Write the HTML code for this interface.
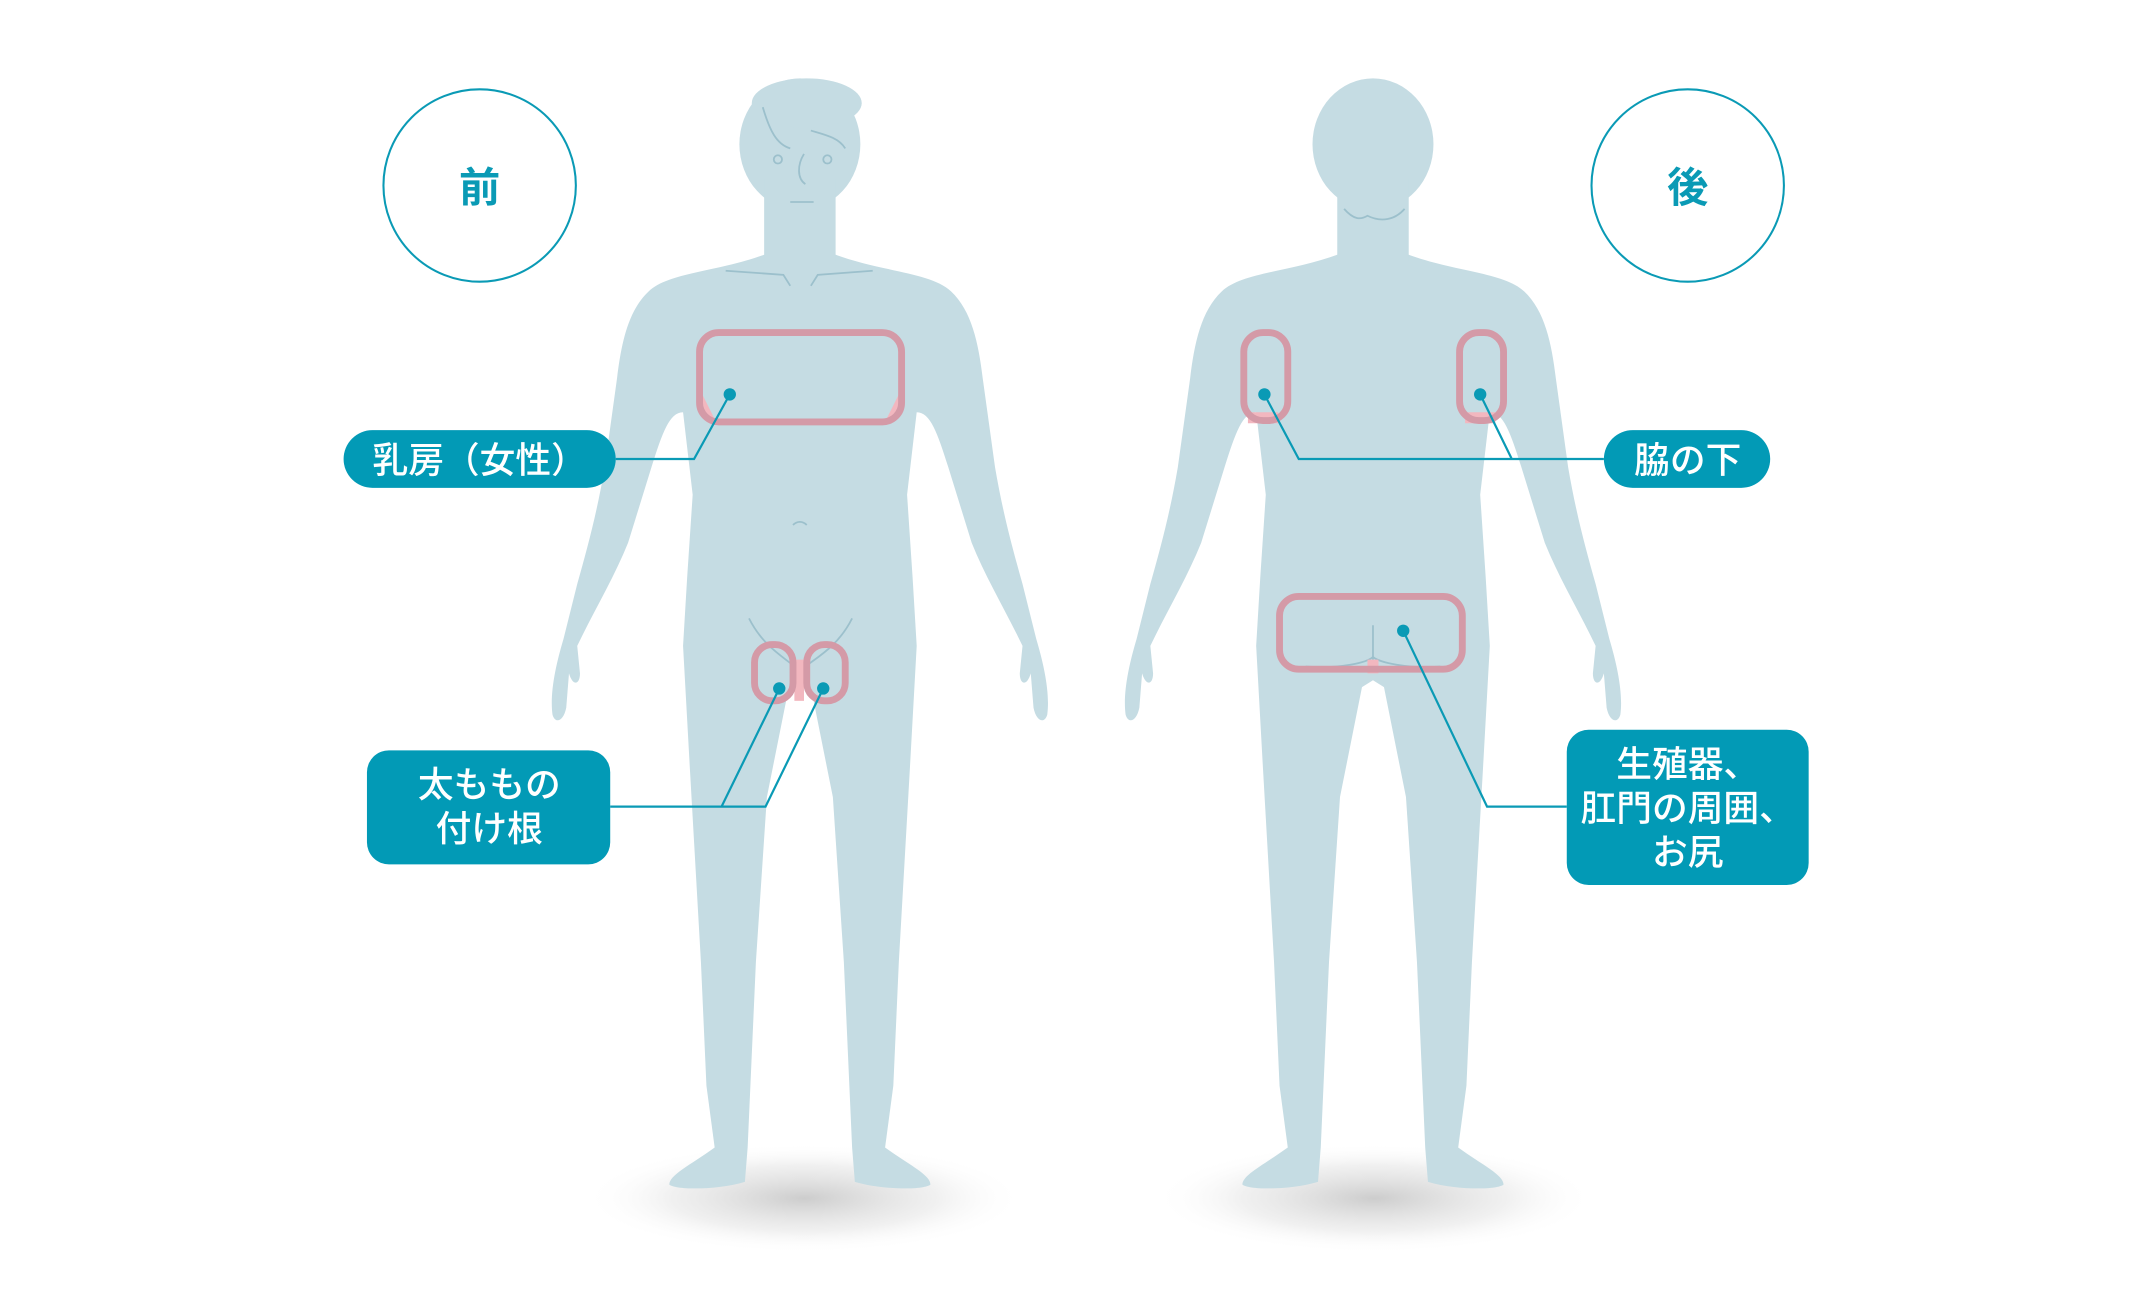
<!DOCTYPE html>
<html><head><meta charset="utf-8"><style>
html,body{margin:0;padding:0;background:#fff;}
svg{display:block;}
text{font-family:"Liberation Sans","Noto Sans CJK JP",sans-serif;}
</style></head><body>
<svg width="2144" height="1300" viewBox="0 0 1560 946" preserveAspectRatio="none" xmlns="http://www.w3.org/2000/svg">
<defs>
<radialGradient id="sh" cx="50%" cy="50%" r="50%">
<stop offset="0%" stop-color="#9a9a9a" stop-opacity="0.5"/>
<stop offset="60%" stop-color="#c4c4c4" stop-opacity="0.25"/>
<stop offset="100%" stop-color="#ffffff" stop-opacity="0"/>
</radialGradient>
<path id="body" d="M -25 140 L -25 185 C -60 198 -95 198 -110 212 C -125 226 -130 250 -133 275 L -142 340 C -148 375 -155 400 -162 425 L -172 465 C -178 485 -182 505 -180 520 C -178 527 -172 525 -170 515 L -168 490 C -165 500 -160 498 -160 490 L -162 470 C -150 445 -135 420 -125 395 L -108 340 C -100 315 -95 300 -85 300 L -78 360 L -82 420 L -85 470 L -80 560 L -72 700 L -68 790 L -62 835 C -80 848 -95 855 -95 862 C -90 866 -60 866 -40 860 L -38 835 L -32 700 L -24 580 L -8 500 L 0 495 L 8 500 L 24 580 L 32 700 L 38 835 L 40 860 C 60 866 90 866 95 862 C 95 855 80 848 62 835 L 68 790 L 72 700 L 80 560 L 85 470 L 82 420 L 78 360 L 85 300 C 95 300 100 315 108 340 L 125 395 C 135 420 150 445 162 470 L 160 490 C 160 498 165 500 168 490 L 170 515 C 172 525 178 527 180 520 C 182 505 178 485 172 465 L 162 425 C 155 400 148 375 142 340 L 133 275 C 130 250 125 226 110 212 C 95 198 60 198 25 185 L 25 140 Z"/>
</defs>

<ellipse cx="585" cy="872" rx="160" ry="40" fill="url(#sh)"/>
<ellipse cx="1000" cy="872" rx="160" ry="40" fill="url(#sh)"/>

<g transform="translate(582,0)" fill="#c5dce3">
<use href="#body"/>
<ellipse cx="0" cy="105" rx="44" ry="48"/>
<ellipse cx="5" cy="75" rx="40" ry="18"/>
<rect x="-26" y="130" width="52" height="60"/>
</g>
<g fill="none" stroke="#9cc0cc" stroke-width="1.3">
<path d="M555 78 C560 95 565 105 575 108 M590 95 C600 98 610 100 615 108"/>
<circle cx="566" cy="116" r="3"/><circle cx="602" cy="116" r="3"/>
<path d="M585 112 C580 120 580 130 586 134"/>
<path d="M575 147 L592 147"/>
<path d="M528 197 L570 200 L575 208 M590 208 L595 200 L635 197"/>
<path d="M577 382 C580 379 584 379 587 382"/>
<path d="M545 450 C555 470 570 478 578 485 M620 450 C610 470 595 478 586 485"/>
</g>

<g transform="translate(999,0)" fill="#c5dce3">
<use href="#body"/>
<ellipse cx="0" cy="105" rx="44" ry="48"/>
<rect x="-26" y="130" width="52" height="60"/>
</g>
<g fill="none" stroke="#9cc0cc" stroke-width="1.3">
<path d="M978 152 C985 160 990 160 995 157 C1005 162 1015 160 1022 152"/>
<path d="M999 455 L999 480 M950 485 C975 487 995 482 999 478 C1003 482 1025 487 1048 485"/>
</g>

<g fill="#f2b7bf">
<rect x="578" y="480" width="7" height="30"/>
<rect x="995" y="480" width="8" height="10"/>
<path d="M510 285 L510 300 L520 305 Z"/><path d="M655 285 L655 300 L645 305 Z"/>
<rect x="908" y="300" width="22" height="8"/>
<rect x="1066" y="300" width="22" height="8"/>
</g>

<g fill="none" stroke="#d49aa7" stroke-width="5">
<rect x="509" y="242" width="147" height="65" rx="14"/>
<rect x="549" y="469" width="28" height="41" rx="13"/>
<rect x="587" y="469" width="28" height="41" rx="13"/>
<rect x="905" y="242" width="32" height="64" rx="14"/>
<rect x="1062" y="242" width="32" height="64" rx="14"/>
<rect x="931" y="434" width="133" height="53" rx="14"/>
</g>

<g fill="#fff" stroke="#0a9ab5" stroke-width="1.5">
<circle cx="349" cy="135" r="70"/>
<circle cx="1228" cy="135" r="70"/>
</g>
<text x="349" y="147" font-size="30" font-weight="bold" fill="#0a9ab5" text-anchor="middle">前</text>
<text x="1228" y="147" font-size="30" font-weight="bold" fill="#0a9ab5" text-anchor="middle">後</text>

<g fill="none" stroke="#0a9ab5" stroke-width="1.6">
<path d="M448 334 L505 334 L531 287"/>
<path d="M444 587 L557 587 L599 501 M525 587 L567 501"/>
<path d="M1167 334 L945 334 L920 287 M1100 334 L1077 287"/>
<path d="M1140 587 L1082 587 L1021 459"/>
</g>
<g fill="#0a9ab5">
<circle cx="531" cy="287" r="4.5"/>
<circle cx="567" cy="501" r="4.5"/><circle cx="599" cy="501" r="4.5"/>
<circle cx="920" cy="287" r="4.5"/><circle cx="1077" cy="287" r="4.5"/>
<circle cx="1021" cy="459" r="4.5"/>
</g>

<g fill="#029ab6">
<rect x="250" y="313" width="198" height="42" rx="21"/>
<rect x="267" y="546" width="177" height="83" rx="16"/>
<rect x="1167" y="313" width="121" height="42" rx="21"/>
<rect x="1140" y="531" width="176" height="113" rx="16"/>
</g>
<g fill="#fff" font-size="26" font-weight="500" text-anchor="middle">
<text x="349" y="344">乳房（女性）</text>
<text x="356" y="580">太ももの</text>
<text x="356" y="612">付け根</text>
<text x="1228" y="344">脇の下</text>
<text x="1228" y="565">生殖器、</text>
<text x="1228" y="597">肛門の周囲、</text>
<text x="1228" y="629">お尻</text>
</g>
</svg>
</body></html>
